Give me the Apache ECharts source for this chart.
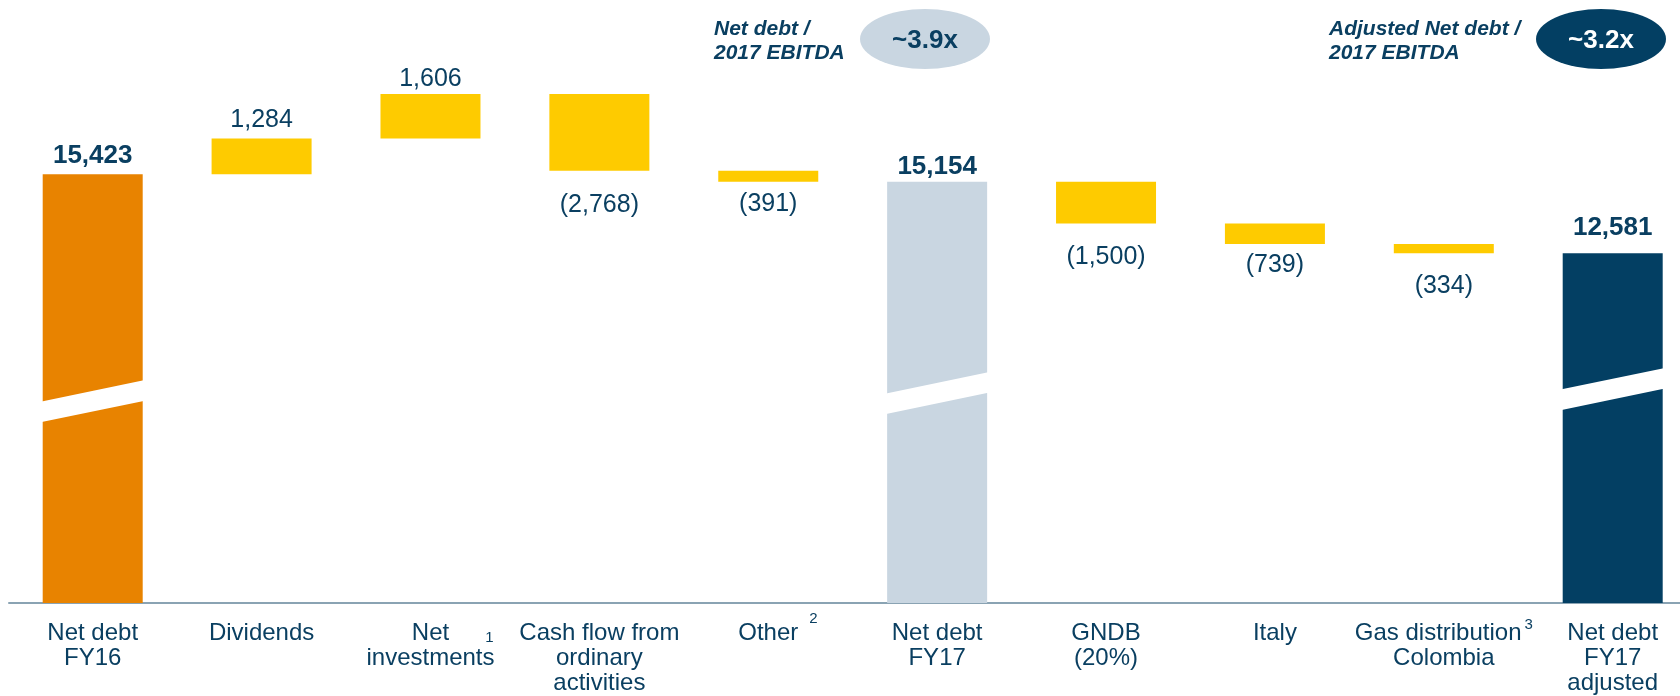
<!DOCTYPE html>
<html>
<head>
<meta charset="utf-8">
<script src="https://cdn.jsdelivr.net/npm/echarts@6/dist/echarts.min.js"></script>
<style>
  html, body { margin: 0; padding: 0; background: #fff; }
  #chart { width: 1680px; height: 696px; }
</style>
</head>
<body>
<div id="chart"></div>
<script>
// waterfall: net debt bridge FY16 -> FY17 adjusted
const categories = [
  'Net debt\nFY16', 'Dividends', 'Net\ninvestments', 'Cash flow from\nordinary\nactivities', 'Other',
  'Net debt\nFY17', 'GNDB\n(20%)', 'Italy', 'Gas distribution\nColombia', 'Net debt\nFY17\nadjusted'
]
const footnotes = ['', '', '1', '', '2', '', '', '', '3', '']
const values = [15423, 1284, 1606, -2768, -391, 15154, -1500, -739, -334, 12581]
const isTotal = [true, false, false, false, false, true, false, false, false, true]
// where the axis-break band starts on the total bars
const breakAt = [6510, null, null, null, null, 6800, null, null, null, 6945]
const ratioTitles = ['Net debt /\n2017 EBITDA', 'Adjusted Net debt /\n2017 EBITDA']
const ratioValues = ['~3.9x', '~3.2x']

const NAVY = '#0a3f61'
const FONT = 'Arial, "Liberation Sans", sans-serif'
const BAR_W = 100
const totalColors = ['#e88300', '#c9d6e1', '#033f63']
const deltaColor = '#fecb00'
// label distance from bar end, per bar
const labelGap = [5, 6, 2, 22, 10, 2, 21, 9, 20, 12]

const fmt = v => Math.abs(v).toLocaleString('en-US')

// build stacked base + visible pieces
let running = 0
let totalIdx = 0
const base = []
const shown = []
values.forEach((v, i) => {
  if (isTotal[i]) {
    running = v
    base.push(0)
    shown.push({
      value: v,
      itemStyle: { color: totalColors[totalIdx++] },
      label: {
        position: 'top', distance: labelGap[i], fontWeight: 'bold', fontSize: 26,
        formatter: fmt(v)
      }
    })
  } else {
    const low = v > 0 ? running : running + v
    running += v
    base.push(low)
    shown.push({
      value: Math.abs(v),
      itemStyle: { color: deltaColor },
      label: {
        position: v > 0 ? 'top' : 'bottom', distance: labelGap[i], fontSize: 25,
        formatter: v > 0 ? fmt(v) : '(' + fmt(v) + ')'
      }
    })
  }
})

const breaks = breakAt.map((b, i) => (b == null ? null : [i, b])).filter(Boolean)

const chart = echarts.init(document.getElementById('chart'))

chart.setOption({
  animation: false,
  backgroundColor: '#fff',
  textStyle: { fontFamily: FONT },
  grid: [
    { left: 92.7, width: 1520, top: 47, bottom: 93, outerBoundsMode: 'none' },
    // only carries the full-width base line
    { left: 9, right: 0, top: 47, bottom: 93, outerBoundsMode: 'none' }
  ],
  xAxis: [
    {
      type: 'category',
      data: categories,
      boundaryGap: false,
      axisTick: { show: false },
      axisLine: { show: false },
      axisLabel: {
        interval: 0,
        margin: 17.5,
        color: NAVY,
        fontSize: 24,
        lineHeight: 25,
        fontFamily: FONT,
        formatter: (name, idx) => {
          const fn = footnotes[idx]
          if (!fn) return name
          const lines = name.split('\n')
          if (fn === '1') {
            return '{h1|' + fn + '}' + lines[0] + '{s1|' + fn + '}\n' + lines.slice(1).join('\n')
          }
          if (fn === '2') {
            return '{h2|' + fn + '}' + lines[0] + '{s2|' + fn + '}\n' + lines.slice(1).join('\n')
          }
          return lines[0] + '{s3|' + fn + '}\n' + lines.slice(1).join('\n')
        },
        rich: {
          s1: { fontSize: 15, color: NAVY, verticalAlign: 'bottom', lineHeight: 15, padding: [0, 0, 0, 36] },
          h1: { fontSize: 15, color: 'transparent', verticalAlign: 'bottom', lineHeight: 15, padding: [0, 36, 0, 0] },
          s2: { fontSize: 15, color: NAVY, verticalAlign: 'bottom', lineHeight: 15, padding: [0, 0, 19.5, 11] },
          h2: { fontSize: 15, color: 'transparent', verticalAlign: 'bottom', lineHeight: 15, padding: [0, 11, 19.5, 0] },
          s3: { fontSize: 15, color: NAVY, verticalAlign: 'bottom', lineHeight: 15, padding: [0, 0, 13, 3] }
        }
      }
    },
    {
      type: 'value',
      gridIndex: 1,
      min: 0,
      max: 1,
      axisLine: { show: true, lineStyle: { color: '#8aa3b3', width: 2 } },
      axisTick: { show: false },
      axisLabel: { show: false },
      splitLine: { show: false }
    }
  ],
  yAxis: [
    { type: 'value', min: 0, max: 20000, show: false },
    { type: 'value', gridIndex: 1, min: 0, max: 1, show: false }
  ],
  series: [
    {
      type: 'bar',
      stack: 'w',
      barWidth: BAR_W,
      clip: false,
      itemStyle: { color: 'transparent' },
      data: base,
      silent: true
    },
    {
      type: 'bar',
      stack: 'w',
      barWidth: BAR_W,
      clip: false,
      label: { show: true, color: NAVY, fontFamily: FONT },
      data: shown
    },
    {
      type: 'custom',
      z: 5,
      clip: false,
      data: breaks,
      renderItem: (params, api) => {
        const i = api.value(0)
        const v = api.value(1)
        const p = api.coord([i, v])
        const thick = api.size([0, 740])[1]
        const rise = api.size([0, 760])[1]
        const half = BAR_W / 2 + 1
        return {
          type: 'polygon',
          shape: {
            points: [
              [p[0] - half, p[1]],
              [p[0] - half, p[1] - thick],
              [p[0] + half, p[1] - thick - rise],
              [p[0] + half, p[1] - rise]
            ]
          },
          style: { fill: '#fff' }
        }
      }
    }
  ],
  graphic: [
    {
      type: 'text', left: 714, top: 17,
      style: {
        text: ratioTitles[0], fill: NAVY, font: 'italic bold 21px ' + FONT, lineHeight: 24
      }
    },
    {
      type: 'circle', x: 925, y: 39, scaleY: 30 / 65,
      shape: { cx: 0, cy: 0, r: 65 },
      style: { fill: '#c9d6e1' }
    },
    {
      type: 'text', x: 925, y: 41,
      style: {
        text: ratioValues[0], fill: NAVY, font: 'bold 26px ' + FONT,
        align: 'center', verticalAlign: 'middle'
      }
    },
    {
      type: 'text', left: 1329, top: 17,
      style: {
        text: ratioTitles[1], fill: NAVY, font: 'italic bold 21px ' + FONT, lineHeight: 24
      }
    },
    {
      type: 'circle', x: 1601, y: 39, scaleY: 30 / 65,
      shape: { cx: 0, cy: 0, r: 65 },
      style: { fill: '#033f63' }
    },
    {
      type: 'text', x: 1601, y: 41,
      style: {
        text: ratioValues[1], fill: '#fff', font: 'bold 26px ' + FONT,
        align: 'center', verticalAlign: 'middle'
      }
    }
  ]
})
</script>
</body>
</html>
